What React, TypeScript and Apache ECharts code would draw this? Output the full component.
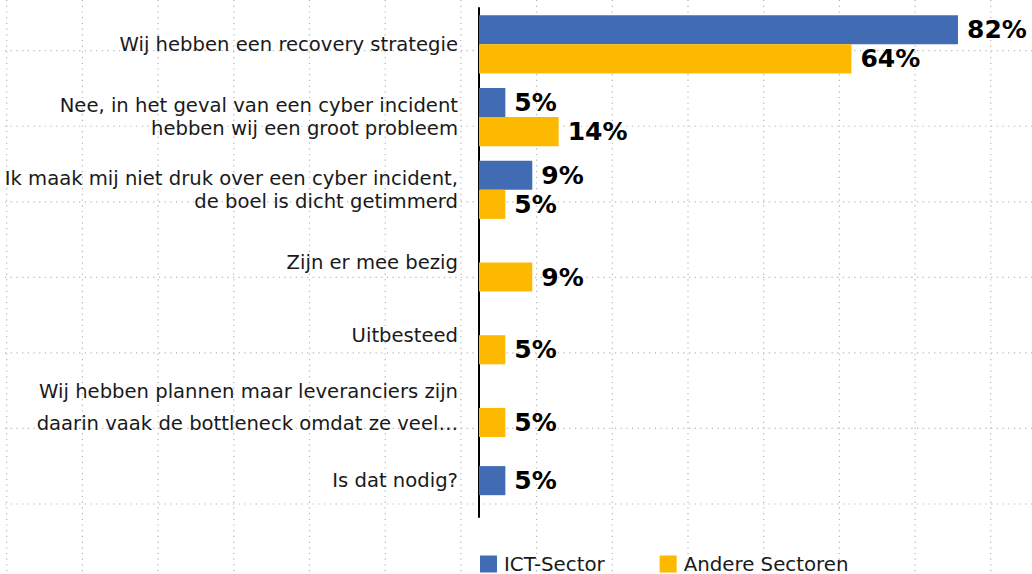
import React, { useEffect, useRef } from "react";
import * as echarts from "echarts";

const categories = [
  "Wij hebben een recovery strategie",
  "Nee, in het geval van een cyber incident\nhebben wij een groot probleem",
  "Ik maak mij niet druk over een cyber incident,\nde boel is dicht getimmerd",
  "Zijn er mee bezig",
  "Uitbesteed",
  "Wij hebben plannen maar leveranciers zijn\ndaarin vaak de bottleneck omdat ze veel…",
  "Is dat nodig?",
];
const ictValues: (number | null)[] = [81.8, 4.5, 9.1, null, null, null, 4.5];
const andereValues: (number | null)[] = [63.6, 13.6, 4.5, 9.1, 4.5, 4.5, null];
const seriesNames = ["ICT-Sector", "Andere Sectoren"];

const BLUE = "#416BB3";
const YELLOW = "#FDB900";
const FONT = "DejaVu Sans";

export default function App() {
  const ref = useRef<HTMLDivElement>(null);
  useEffect(() => {
    if (!ref.current) return;
    const chart = echarts.init(ref.current, undefined, { renderer: "svg" });

    // ICT bars sharing a category with Andere are grouped; alone they are centered
    const ictGrouped = ictValues.map((v, i) => (andereValues[i] == null ? null : v));
    const ictSolo = ictValues.map((v, i) => (andereValues[i] == null ? v : null));

    // decorative dotted background grid
    const bg: any[] = [];
    const dotStyle = { stroke: "#b5b5b5", lineWidth: 1.2, lineDash: [1.2, 4.5] };
    for (let k = 0; k < 14; k++) {
      const x = 6.7 + 75.7 * k;
      bg.push({ type: "line", silent: true, z: -10, shape: { x1: x, y1: 0, x2: x, y2: 574 }, style: dotStyle });
    }
    for (let k = 0; k < 7; k++) {
      const y = 50.7 + 75.55 * k;
      bg.push({ type: "line", silent: true, z: -10, shape: { x1: 5, y1: y, x2: 1032, y2: y }, style: dotStyle });
    }

    const barLabel = {
      show: true,
      position: "right",
      distance: 9,
      formatter: (p: any) => `${Math.round(p.value)}%`,
      color: "#000",
      fontFamily: FONT,
      fontWeight: "bold",
      fontSize: 25,
    };

    chart.setOption({
      animation: false,
      graphic: bg,
      grid: { left: 479, right: 26, top: 8, bottom: 57, containLabel: false },
      xAxis: { type: "value", min: 0, max: 90, show: false },
      yAxis: [
        {
          type: "category",
          inverse: true,
          data: categories,
          axisLine: { show: true, lineStyle: { color: "#000", width: 2 } },
          axisTick: { show: false },
          splitLine: { show: false },
          axisLabel: {
            margin: 21,
            fontFamily: FONT,
            fontSize: 19.6,
            color: "#1a1a1a",
            lineHeight: 23,
            align: "right",
            formatter: (v: string) =>
              v === categories[5]
                ? v.split("\n").map((l) => `{tall|${l}}`).join("\n")
                : v,
            rich: {
              tall: { fontFamily: FONT, fontSize: 19.6, color: "#1a1a1a", lineHeight: 32 },
            },
          },
        },
        { type: "category", inverse: true, data: categories, show: false },
      ],
      legend: {
        data: seriesNames,
        left: 480,
        top: 554,
        padding: 0,
        itemWidth: 17,
        itemHeight: 17,
        itemGap: 55,
        icon: "rect",
        textStyle: { fontFamily: FONT, fontSize: 19.8, color: "#1a1a1a", padding: [0, 0, 0, 2] },
      },
      series: [
        {
          name: seriesNames[0],
          type: "bar",
          yAxisIndex: 0,
          data: ictGrouped,
          barGap: "0%",
          barCategoryGap: "20%",
          itemStyle: { color: BLUE },
          label: barLabel,
        },
        {
          name: seriesNames[1],
          type: "bar",
          yAxisIndex: 0,
          data: andereValues,
          barGap: "0%",
          barCategoryGap: "20%",
          itemStyle: { color: YELLOW },
          label: barLabel,
        },
        {
          name: seriesNames[0],
          type: "bar",
          yAxisIndex: 1,
          data: ictSolo,
          barWidth: "40%",
          itemStyle: { color: BLUE },
          label: barLabel,
        },
      ],
    });
    return () => chart.dispose();
  }, []);
  return (
    <div
      ref={ref}
      style={{ position: "fixed", left: 0, top: 0, width: 1032, height: 574, background: "#fff" }}
    />
  );
}
